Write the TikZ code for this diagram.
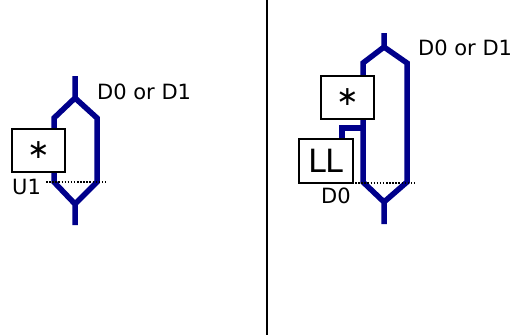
\documentclass[tikz,border=0pt]{standalone}
\usepackage{fontspec}
\setmainfont{DejaVu Sans}
\begin{document}
\begin{tikzpicture}[x=1pt,y=-1pt,
  wire/.style={draw={rgb,255:red,0;green,0;blue,139},line width=5.5pt,line join=miter},
  gatebox/.style={draw=black,line width=1.3pt,fill=white,minimum width=53pt,minimum height=43pt,inner sep=0pt},
  lbl/.style={font=\fontsize{21}{24}\selectfont,inner sep=0pt,anchor=west},
  probe/.style={draw=black,line width=1.5pt,dash pattern=on 1.5pt off 1.6pt}]
\useasboundingbox (0,0) rectangle (511,335);
% divider
\draw[line width=1.5pt] (267,0) coordinate (dt) -- (267,335) coordinate (db);
% ---- left diagram ----
\coordinate (lt) at (75,76);
\coordinate (ls) at (75,98);
\coordinate (ll1) at (54,118);
\coordinate (ll2) at (54,182);
\coordinate (lj) at (75,204);
\coordinate (lb) at (75,225);
\coordinate (lr1) at (97,118);
\coordinate (lr2) at (97,182);
\draw[wire] (lt) -- (ls) -- (ll1) -- (ll2) -- (lj) -- (lb);
\draw[wire] (ls) -- (lr1) -- (lr2) -- (lj);
\node[gatebox] (astarL) at (38.5,150.5) {\fontsize{27}{29}\selectfont ∗};
\coordinate (lp1) at (46,182);
\coordinate (lp2) at (107,182);
\draw[probe] (lp1) -- (lp2);
\node[lbl] (ldl) at (97,92) {D0 or D1};
\node[lbl] (lu1) at (12,187) {U1};
% ---- right diagram ----
\coordinate (rt) at (384,33);
\coordinate (rs) at (384,47);
\coordinate (rl1) at (363,63);
\coordinate (rl2) at (363,182);
\coordinate (rj) at (384,202);
\coordinate (rb) at (384,224);
\coordinate (rr1) at (407,63);
\coordinate (rr2) at (407,182);
\draw[wire] (rt) -- (rs) -- (rl1) -- (rl2) -- (rj) -- (rb);
\draw[wire] (rs) -- (rr1) -- (rr2) -- (rj);
\node[gatebox] (astarR) at (347.5,97.5) {\fontsize{27}{29}\selectfont ∗};
\coordinate (e1) at (342,140);
\coordinate (e2) at (342,128);
\coordinate (e3) at (363,128);
\draw[wire] (e1) -- (e2) -- (e3);
\node[gatebox,minimum width=54pt,minimum height=44pt] (ll) at (326,161) {\fontsize{32}{34}\selectfont LL};
\coordinate (rp1) at (355,183);
\coordinate (rp2) at (417,183);
\draw[probe] (rp1) -- (rp2);
\node[lbl] (rdl) at (418,48) {D0 or D1};
\node[lbl] (rd0) at (321,196) {D0};
\end{tikzpicture}
\end{document}
